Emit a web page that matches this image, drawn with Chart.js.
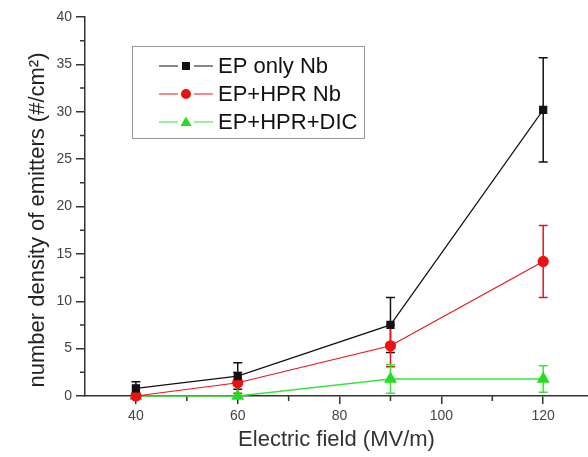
<!DOCTYPE html>
<html>
<head>
<meta charset="utf-8">
<script src="https://cdn.jsdelivr.net/npm/chart.js@4"></script>
<style>
  html, body { margin: 0; padding: 0; background: #fff; overflow: hidden; }
  #wrap { position: absolute; left: 0; top: 0; width: 588px; height: 457px; }
  #wrap canvas { display: block; }
</style>
</head>
<body>
<div id="wrap"><canvas id="emitterChart"></canvas></div>
<script>
// electric field points (MV/m)
const fields = [40, 60, 90, 120];

// number density of emitters (#/cm2) and error bars
const epOnly = [0.8, 2.1, 7.5, 30.2];
const epOnlyErr = [0.7, 1.4, 2.9, 5.5];
const epHpr = [0.0, 1.4, 5.3, 14.2];
const epHprErr = [0.0, 1.1, 2.2, 3.8];
const epHprDic = [0.0, 0.0, 1.8, 1.8];
const epHprDicErr = [0.0, 0.0, 1.5, 1.4];

const seriesNames = ['EP only Nb', 'EP+HPR Nb', 'EP+HPR+DIC'];
const yTitle = 'number density of emitters (#/cm²)';

const xMajor = [40, 60, 80, 100, 120];
const xMinor = [50, 70, 90, 110];
const yMajor = [0, 5, 10, 15, 20, 25, 30, 35, 40];
const yMinor = [2.5, 7.5, 12.5, 17.5, 22.5, 27.5, 32.5, 37.5];

const FONT = "'Liberation Sans', Arial, sans-serif";
const AXIS = '#333';

function points(ys) {
  return fields.map((x, i) => ({ x: x, y: ys[i] }));
}

const errs = [epOnlyErr, epHprErr, epHprDicErr];

// error bars, minor ticks
const extrasPlugin = {
  id: 'extras',
  beforeDatasetsDraw(chart) {
    const ctx = chart.ctx;
    const xs = chart.scales.x, ys = chart.scales.y;
    ctx.save();
    chart.data.datasets.forEach((ds, d) => {
      ctx.strokeStyle = ds.borderColor;
      ctx.lineWidth = 1.5;
      ds.data.forEach((p, i) => {
        const e = errs[d][i];
        if (!e) return;
        const px = xs.getPixelForValue(p.x);
        const top = ys.getPixelForValue(p.y + e);
        const bot = ys.getPixelForValue(Math.max(p.y - e, 0.3));
        ctx.beginPath();
        ctx.moveTo(px, top); ctx.lineTo(px, bot);
        ctx.moveTo(px - 4.5, top); ctx.lineTo(px + 4.5, top);
        ctx.moveTo(px - 4.5, bot); ctx.lineTo(px + 4.5, bot);
        ctx.stroke();
      });
    });
    ctx.strokeStyle = AXIS;
    ctx.lineWidth = 1.5;
    ctx.beginPath();
    xMinor.forEach(v => {
      const px = xs.getPixelForValue(v);
      ctx.moveTo(px, ys.bottom); ctx.lineTo(px, ys.bottom + 5);
    });
    yMinor.forEach(v => {
      const py = ys.getPixelForValue(v);
      ctx.moveTo(xs.left, py); ctx.lineTo(xs.left - 5, py);
    });
    ctx.stroke();
    ctx.restore();
  },
  afterDraw(chart) {
    const ctx = chart.ctx;
    ctx.save();
    // y axis title
    ctx.save();
    ctx.translate(38, 220);
    ctx.rotate(-Math.PI / 2);
    ctx.fillStyle = '#222';
    ctx.font = '22px ' + FONT;
    ctx.textAlign = 'center';
    ctx.textBaseline = 'middle';
    ctx.fillText(yTitle, 0, 0);
    ctx.restore();
    // legend box
    ctx.strokeStyle = '#999';
    ctx.lineWidth = 1;
    ctx.strokeRect(132.5, 46.5, 232, 92);
    const rowsY = [66, 94, 122];
    chart.data.datasets.forEach((ds, d) => {
      const y = rowsY[d];
      ctx.strokeStyle = ds.borderColor;
      ctx.lineWidth = 1.2;
      ctx.beginPath();
      ctx.moveTo(159, y); ctx.lineTo(178, y);
      ctx.moveTo(194, y); ctx.lineTo(213, y);
      ctx.stroke();
      ctx.fillStyle = ds.pointBackgroundColor;
      ctx.beginPath();
      if (ds.pointStyle === 'rect') {
        ctx.rect(182, y - 4, 8, 8);
      } else if (ds.pointStyle === 'circle') {
        ctx.arc(186, y, 5, 0, Math.PI * 2);
      } else {
        ctx.moveTo(186, y - 5.5); ctx.lineTo(191.5, y + 4); ctx.lineTo(180.5, y + 4); ctx.closePath();
      }
      ctx.fill();
      ctx.fillStyle = '#111';
      ctx.font = '22px ' + FONT;
      ctx.textBaseline = 'middle';
      ctx.fillText(seriesNames[d], 218, y + 1);
    });
    ctx.restore();
  }
};

new Chart(document.getElementById('emitterChart'), {
  type: 'scatter',
  data: {
    datasets: [
      {
        label: seriesNames[0],
        data: points(epOnly),
        showLine: true,
        borderColor: '#111',
        backgroundColor: '#111',
        pointBackgroundColor: '#111',
        pointBorderColor: '#111',
        borderWidth: 1.2,
        pointStyle: 'rect',
        pointRadius: 5,
        clip: false
      },
      {
        label: seriesNames[1],
        data: points(epHpr),
        showLine: true,
        borderColor: '#e8161a',
        backgroundColor: '#e8161a',
        pointBackgroundColor: '#ee1111',
        pointBorderColor: '#ee1111',
        borderWidth: 1.2,
        pointStyle: 'circle',
        pointRadius: 5,
        clip: false
      },
      {
        label: seriesNames[2],
        data: points(epHprDic),
        showLine: true,
        borderColor: '#3be43b',
        backgroundColor: '#3be43b',
        pointBackgroundColor: '#22dd22',
        pointBorderColor: '#22dd22',
        borderWidth: 1.5,
        pointStyle: 'triangle',
        pointRadius: 6,
        clip: false
      }
    ]
  },
  options: {
    responsive: true,
    maintainAspectRatio: false,
    animation: false,
    layout: { autoPadding: false, padding: { top: 17, right: 0, left: 0, bottom: 0 } },
    scales: {
      x: {
        type: 'linear',
        min: 30,
        max: 128.8,
        afterFit(scale) {
          scale.height = 61;
          scale.paddingLeft = 0;
          scale.paddingRight = 0;
        },
        afterBuildTicks(scale) { scale.ticks = xMajor.map(v => ({ value: v })); },
        grid: { display: true, drawOnChartArea: false, tickLength: 8, color: AXIS, lineWidth: 1.5 },
        border: { color: AXIS, width: 1.5 },
        ticks: { color: '#444', font: { family: FONT, size: 14 }, padding: 4 },
        title: {
          display: true,
          text: 'Electric field (MV/m)',
          color: '#333',
          font: { family: FONT, size: 22 },
          padding: { top: 0 }
        }
      },
      y: {
        min: 0,
        max: 40,
        afterFit(scale) { scale.width = 85; },
        afterBuildTicks(scale) { scale.ticks = yMajor.map(v => ({ value: v })); },
        grid: { display: true, drawOnChartArea: false, tickLength: 9, color: AXIS, lineWidth: 1.5 },
        border: { color: AXIS, width: 1.5 },
        ticks: { color: '#444', font: { family: FONT, size: 14 }, padding: 4 }
      }
    },
    plugins: {
      legend: { display: false },
      tooltip: { enabled: false }
    }
  },
  plugins: [extrasPlugin]
});
</script>
</body>
</html>
